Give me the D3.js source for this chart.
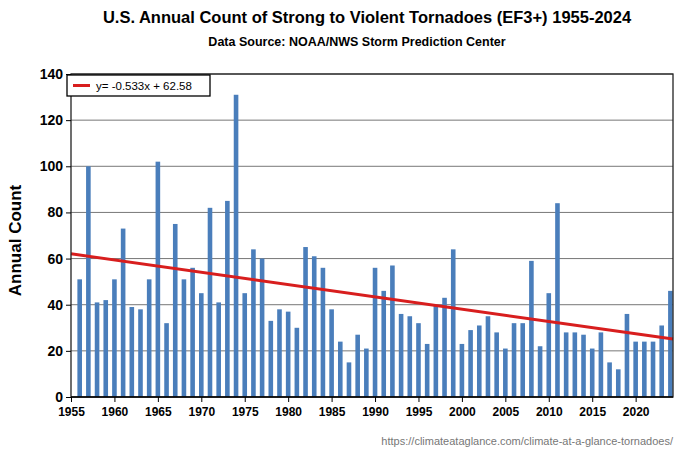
<!DOCTYPE html>
<html><head><meta charset="utf-8">
<script src="https://cdn.jsdelivr.net/npm/d3@7"></script>
<style>body{margin:0;background:#fff}text{font-family:Arial,"Liberation Sans",sans-serif}</style>
</head><body><svg id="c" width="700" height="452"></svg>
<script>
const years = d3.range(1956, 2025);
const counts = [51,100,41,42,51,73,39,38,51,102,32,75,51,56,45,82,41,85,131,45,64,60,33,38,37,30,65,61,56,38,24,15,27,21,56,46,57,36,35,32,23,40,43,64,23,29,31,35,28,21,32,32,59,22,45,84,28,28,27,21,28,15,12,36,24,24,24,31,46];
const yTicks = d3.range(0, 141, 20);
const xTicks = d3.range(1955, 2021, 5);
const slope = -0.533, intercept = 62.58;

const svg = d3.select("#c");
const m = {l: 71, r: 673, t: 74, b: 397};
const x = d3.scaleLinear().domain([1955, 2024.3]).range([m.l, m.r]);
const y = d3.scaleLinear().domain([0, 140]).range([m.b, m.t]);
const trend = yr => intercept + slope * (yr - 1954);

svg.append("g").selectAll("line").data(yTicks.slice(1)).join("line")
  .attr("x1", m.l).attr("x2", m.r).attr("y1", d => y(d)).attr("y2", d => y(d))
  .attr("stroke", "#777").attr("stroke-width", 1);

svg.append("g").selectAll("rect").data(years).join("rect")
  .attr("x", d => x(d) - 2.3).attr("width", 4.6)
  .attr("y", (d, i) => y(counts[i])).attr("height", (d, i) => y(0) - y(counts[i]))
  .attr("fill", "#4a7ebb");

svg.append("line").attr("x1", x(1955)).attr("x2", x(2024.3))
  .attr("y1", y(trend(1955))).attr("y2", y(trend(2024.3)))
  .attr("stroke", "#d81e1e").attr("stroke-width", 3);

svg.append("rect").attr("x", m.l).attr("y", m.t).attr("width", m.r - m.l).attr("height", m.b - m.t)
  .attr("fill", "none").attr("stroke", "#222").attr("stroke-width", 1.3);
svg.append("line").attr("x1", m.l).attr("x2", m.r).attr("y1", m.b).attr("y2", m.b).attr("stroke", "#000").attr("stroke-width", 1.5);

const ya = svg.append("g").attr("transform", `translate(${m.l},0)`)
  .call(d3.axisLeft(y).tickValues(yTicks).tickSize(5).tickFormat(d3.format("d")));
ya.select(".domain").remove();
ya.selectAll("text").attr("font-size", 14).attr("font-weight", "bold").attr("fill", "#000");
const xa = svg.append("g").attr("transform", `translate(0,${m.b})`)
  .call(d3.axisBottom(x).tickValues(xTicks).tickSize(5).tickFormat(d3.format("d")));
xa.select(".domain").remove();
xa.selectAll("text").attr("font-size", 12).attr("font-weight", "bold").attr("fill", "#000").attr("dy", "0.9em");

// legend
svg.append("rect").attr("x", 67).attr("y", 75).attr("width", 143).attr("height", 21)
  .attr("fill", "#fff").attr("stroke", "#000").attr("stroke-width", 1.3);
svg.append("line").attr("x1", 73).attr("x2", 90).attr("y1", 85.5).attr("y2", 85.5).attr("stroke", "#d81e1e").attr("stroke-width", 3);
svg.append("text").attr("x", 96).attr("y", 90).attr("font-size", 11.5).text("y= -0.533x + 62.58");

svg.append("text").attr("x", 367).attr("y", 23).attr("text-anchor", "middle")
  .attr("font-size", 16.5).attr("font-weight", "bold").text("U.S. Annual Count of Strong to Violent Tornadoes (EF3+) 1955-2024");
svg.append("text").attr("x", 357).attr("y", 46).attr("text-anchor", "middle")
  .attr("font-size", 12.5).attr("font-weight", "bold").text("Data Source: NOAA/NWS Storm Prediction Center");
svg.append("text").attr("transform", `translate(21,${(m.t + m.b) / 2 + 5}) rotate(-90)`).attr("text-anchor", "middle")
  .attr("font-size", 17).attr("font-weight", "bold").text("Annual Count");
svg.append("text").attr("x", 673).attr("y", 445).attr("text-anchor", "end")
  .attr("font-size", 11).attr("fill", "#777").text("https://climateataglance.com/climate-at-a-glance-tornadoes/");
</script></body></html>
